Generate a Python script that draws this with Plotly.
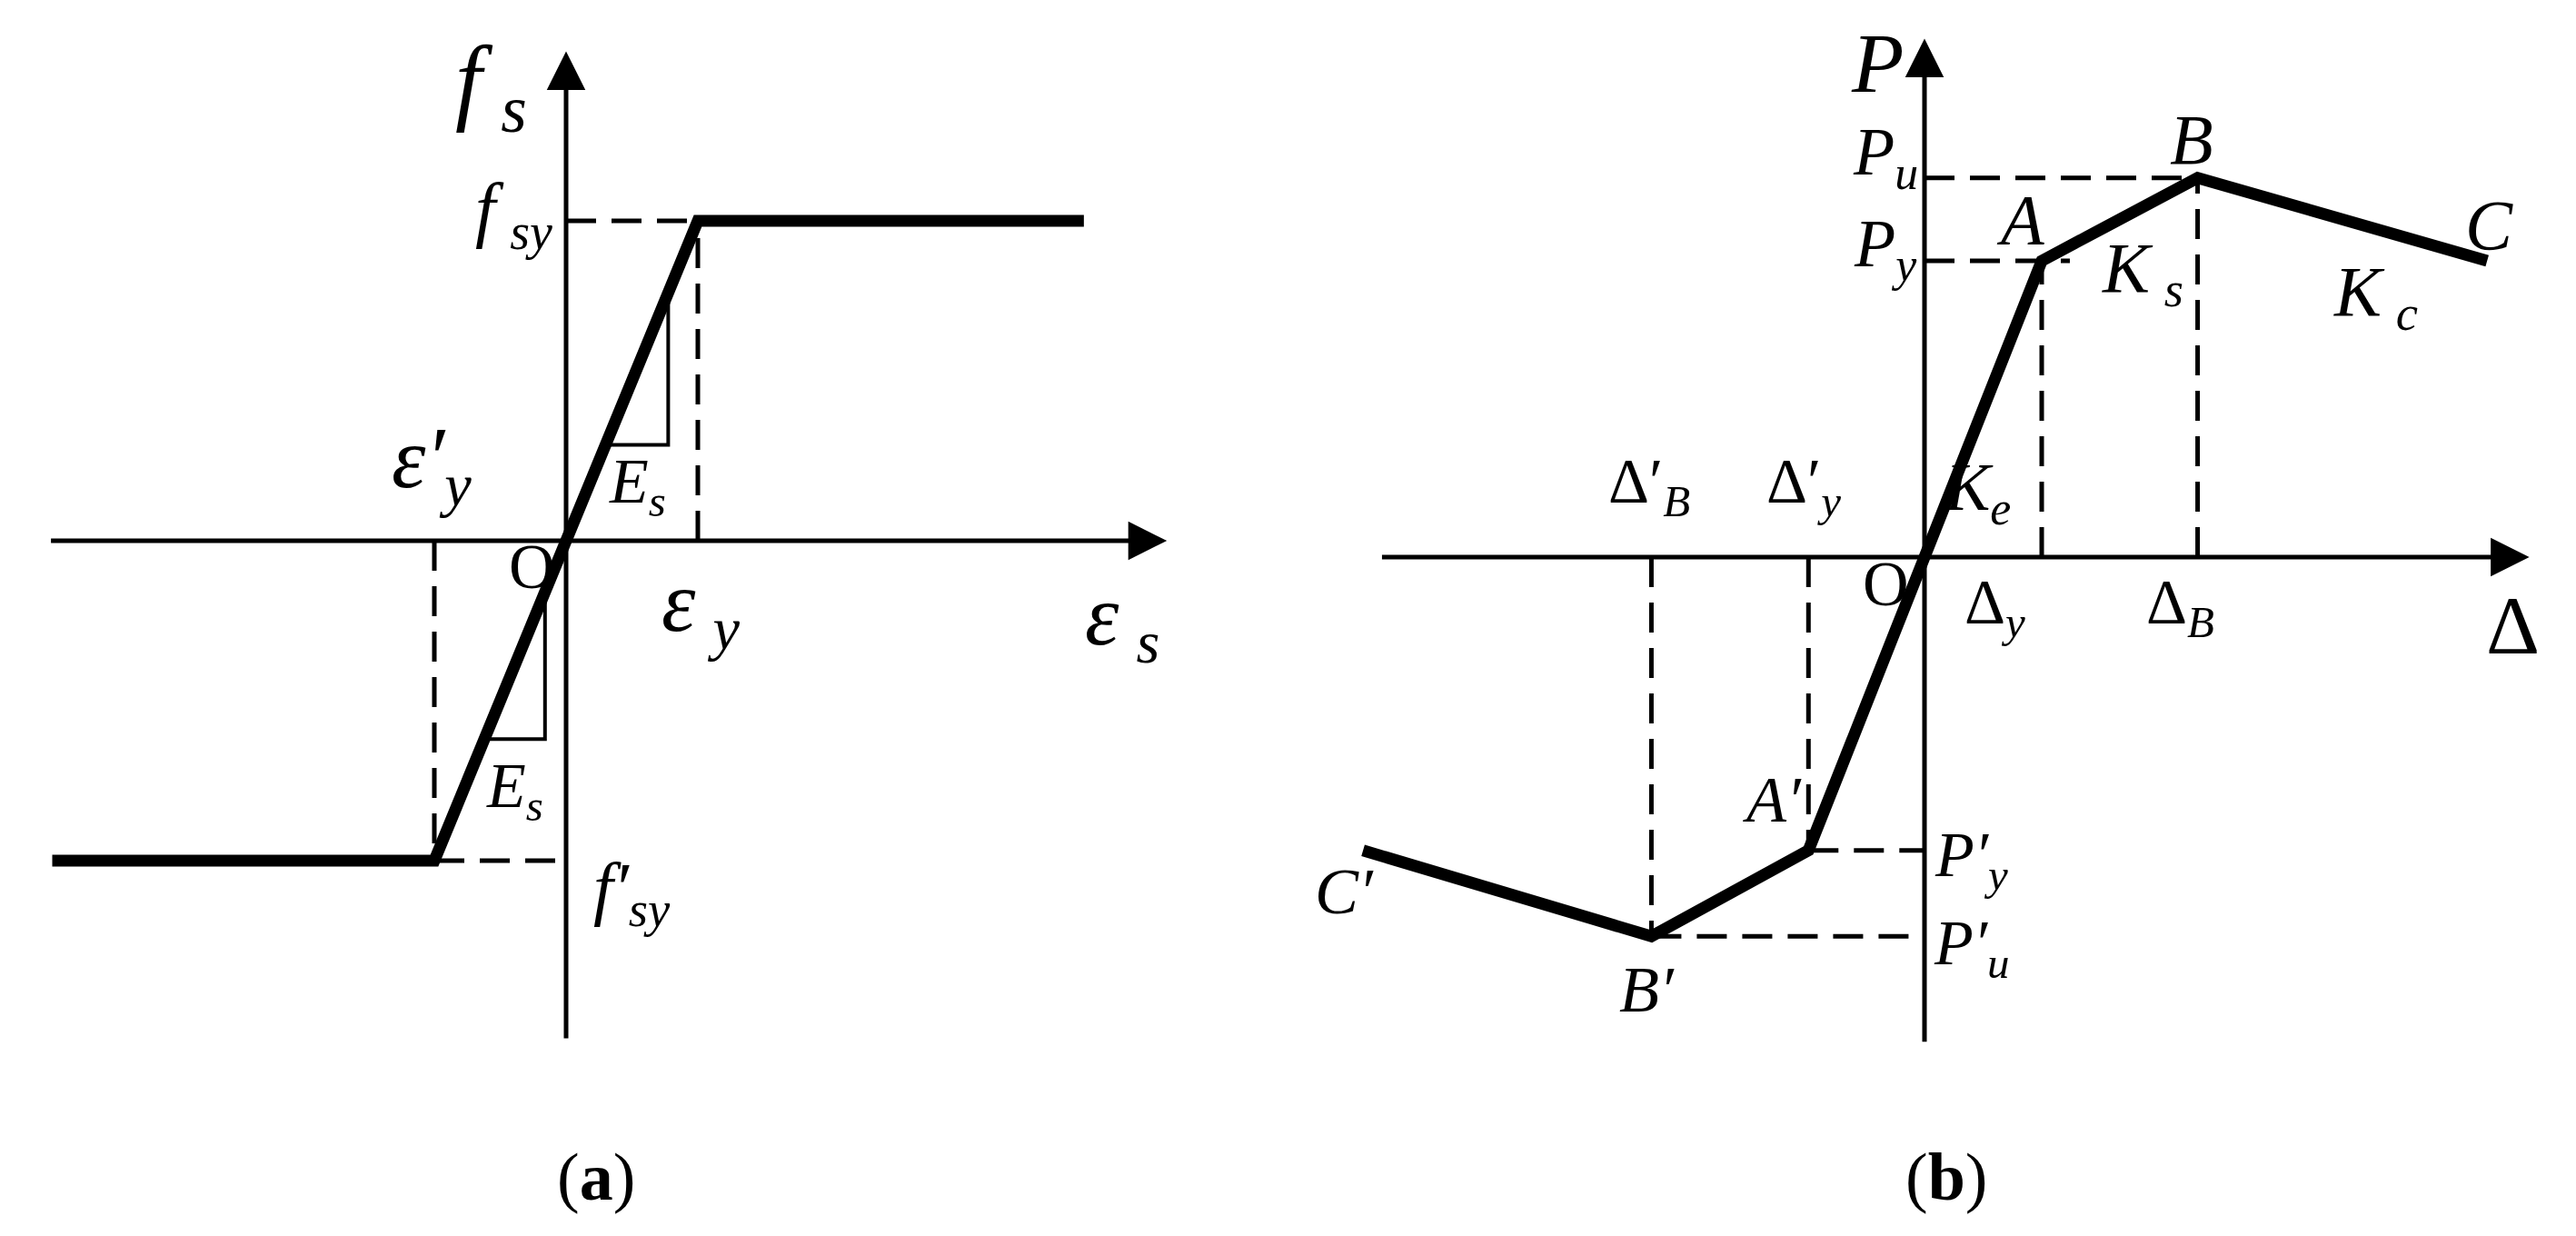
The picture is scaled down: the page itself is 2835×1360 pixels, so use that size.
import plotly.graph_objects as go

# ---- panel (a): bilinear steel law, units of eps_y / f_sy ----
eps_a = [-3.9, -1.0, 1.0, 3.93]
fs_a = [-1.0, -1.0, 1.0, 1.0]
eps_y, f_sy = 1.0, 1.0
eps_y_neg, f_sy_neg = -1.0, -1.0
tri_up_x = [0.3, 0.775, 0.775]
tri_up_y = [0.3, 0.3, 0.775]
tri_dn_x = [-0.62, -0.16, -0.16]
tri_dn_y = [-0.62, -0.62, -0.16]
axis_a_x = [-3.92, 4.56]
axis_a_y = [-1.56, 1.53]

# ---- panel (b): skeleton curve, units of delta_y / P_y ----
delta_b = [-4.79, -2.33, -0.99, 1.0, 2.33, 4.80]
P_b = [-0.99, -1.28, -0.99, 1.0, 1.28, 1.0]
d_y, d_B = 1.0, 2.33
P_y, P_u = 1.0, 1.28
d_y_neg, d_B_neg = -0.99, -2.33
P_y_neg, P_u_neg = -0.99, -1.28
axis_b_x = [-4.64, 5.16]
axis_b_y = [-1.64, 1.75]

# pixel anchors of each panel's origin and unit size (layout only)
W, H = 2835, 1360
OFF = 8  # default body margin of the html page
A_ORIG, A_UNIT = (623 - OFF, 595 - OFF), (145, 352)
B_ORIG, B_UNIT = (2118 - OFF, 613 - OFF), (129, 326)

SERIF = "Liberation Serif"
BLACK = "black"
DASH = "33px,17px"

fig = go.Figure()


def segs(xs_list, ys_list):
    xs, ys = [], []
    for x, y in zip(xs_list, ys_list):
        xs += list(x) + [None]
        ys += list(y) + [None]
    return xs, ys


def add_line(x, y, xa, ya, width, dash="solid"):
    fig.add_trace(go.Scatter(x=x, y=y, xaxis=xa, yaxis=ya, mode="lines",
                             line=dict(color=BLACK, width=width, dash=dash),
                             hoverinfo="skip", showlegend=False))


# panel (a)
dx, dy = segs([[0, eps_y], [eps_y, eps_y], [eps_y_neg, 0], [eps_y_neg, eps_y_neg]],
              [[f_sy, f_sy], [0, f_sy], [f_sy_neg, f_sy_neg], [0, f_sy_neg]])
add_line(dx, dy, "x", "y", 5, DASH)
add_line(tri_up_x + [None] + tri_dn_x, tri_up_y + [None] + tri_dn_y, "x", "y", 4)
add_line(eps_a, fs_a, "x", "y", 13)

# panel (b)
dx, dy = segs([[0, d_B], [0, 1.24], [d_y, d_y], [d_B, d_B],
               [d_y_neg, d_y_neg], [d_B_neg, d_B_neg], [d_y_neg, 0], [d_B_neg, 0]],
              [[P_u, P_u], [P_y, P_y], [0, P_y], [0, P_u],
               [0, P_y_neg], [0, P_u_neg], [P_y_neg, P_y_neg], [P_u_neg, P_u_neg]])
add_line(dx, dy, "x2", "y2", 5, DASH)
add_line(delta_b, P_b, "x2", "y2", 13)

# axes with arrows
for xr, yr, ax_x, ax_y in [("x", "y", axis_a_x, axis_a_y), ("x2", "y2", axis_b_x, axis_b_y)]:
    fig.add_annotation(x=ax_x[1], y=0, ax=ax_x[0], ay=0, xref=xr, yref=yr,
                       axref=xr, ayref=yr, showarrow=True, arrowhead=2,
                       arrowsize=1.7, arrowwidth=5, arrowcolor=BLACK, text="")
    fig.add_annotation(x=0, y=ax_y[1], ax=0, ay=ax_y[0], xref=xr, yref=yr,
                       axref=xr, ayref=yr, showarrow=True, arrowhead=2,
                       arrowsize=1.7, arrowwidth=5, arrowcolor=BLACK, text="")


def lab(text, x, y, size, xr, yr):
    fig.add_annotation(x=x, y=y, xref=xr, yref=yr, text=text, showarrow=False,
                       xanchor="center", yanchor="middle",
                       font=dict(family=SERIF, size=size, color=BLACK))


S = "\u2009"

# labels (a)
lab("<i>f</i>" + S + "<sub><i>s</i></sub>", -0.57, 1.42, 105, "x", "y")
lab("<i>f</i>" + S + "<sub><i>sy</i></sub>", -0.40, 1.02, 80, "x", "y")
lab("<i>ε′</i><sub><i>y</i></sub>", -1.02, 0.24, 95, "x", "y")
lab("O", -0.26, -0.08, 70, "x", "y")
lab("<i>E</i><sub><i>s</i></sub>", 0.54, 0.17, 70, "x", "y")
lab("<i>ε</i>" + S + "<sub><i>y</i></sub>", 1.02, -0.21, 95, "x", "y")
lab("<i>ε</i>" + S + "<sub><i>s</i></sub>", 4.22, -0.25, 95, "x", "y")
lab("<i>E</i><sub><i>s</i></sub>", -0.39, -0.78, 70, "x", "y")
lab("<i>f′</i><sub><i>sy</i></sub>", 0.5, -1.10, 78, "x", "y")

# labels (b)
lab("<i>P</i>", -0.40, 1.67, 94, "x2", "y2")
lab("<i>P</i><sub><i>u</i></sub>", -0.33, 1.35, 74, "x2", "y2")
lab("<i>P</i><sub><i>y</i></sub>", -0.33, 1.04, 74, "x2", "y2")
lab("<i>A</i>", 0.82, 1.14, 78, "x2", "y2")
lab("<i>B</i>", 2.28, 1.41, 78, "x2", "y2")
lab("<i>C</i>", 4.82, 1.12, 78, "x2", "y2")
lab("<i>K</i>" + S + "<sub><i>s</i></sub>", 1.86, 0.96, 78, "x2", "y2")
lab("<i>K</i>" + S + "<sub><i>c</i></sub>", 3.85, 0.88, 78, "x2", "y2")
lab("<i>K</i><sub><i>e</i></sub>", 0.45, 0.22, 74, "x2", "y2")
lab("Δ′<sub><i>B</i></sub>", -2.35, 0.24, 70, "x2", "y2")
lab("Δ′<sub><i>y</i></sub>", -1.03, 0.24, 70, "x2", "y2")
lab("O", -0.33, -0.09, 70, "x2", "y2")
lab("Δ<sub><i>y</i></sub>", 0.60, -0.17, 70, "x2", "y2")
lab("Δ<sub><i>B</i></sub>", 2.18, -0.17, 70, "x2", "y2")
lab("Δ", 5.02, -0.23, 92, "x2", "y2")
lab("<i>A′</i>", -1.30, -0.82, 72, "x2", "y2")
lab("<i>C′</i>", -4.95, -1.13, 72, "x2", "y2")
lab("<i>P′</i><sub><i>y</i></sub>", 0.40, -1.02, 70, "x2", "y2")
lab("<i>P′</i><sub><i>u</i></sub>", 0.40, -1.32, 70, "x2", "y2")
lab("<i>B′</i>", -2.37, -1.46, 72, "x2", "y2")

# captions
lab("(<b>a</b>)", 0.2286, 0.0537, 74, "paper", "paper")
lab("(<b>b</b>)", 0.7527, 0.0537, 74, "paper", "paper")


def rng(orig, unit, total, flip=False):
    if flip:
        return [-(total - orig) / unit, orig / unit]
    return [-orig / unit, (total - orig) / unit]


hidden = dict(visible=False, showgrid=False, zeroline=False, domain=[0, 1])
fig.update_layout(
    width=W, height=H, margin=dict(l=0, r=0, t=0, b=0),
    plot_bgcolor="white", paper_bgcolor="white", showlegend=False,
    xaxis=dict(hidden, range=rng(A_ORIG[0], A_UNIT[0], W)),
    yaxis=dict(hidden, range=rng(A_ORIG[1], A_UNIT[1], H, flip=True)),
    xaxis2=dict(hidden, range=rng(B_ORIG[0], B_UNIT[0], W), overlaying="x"),
    yaxis2=dict(hidden, range=rng(B_ORIG[1], B_UNIT[1], H, flip=True), overlaying="y"),
)

fig.write_html("out.html")
